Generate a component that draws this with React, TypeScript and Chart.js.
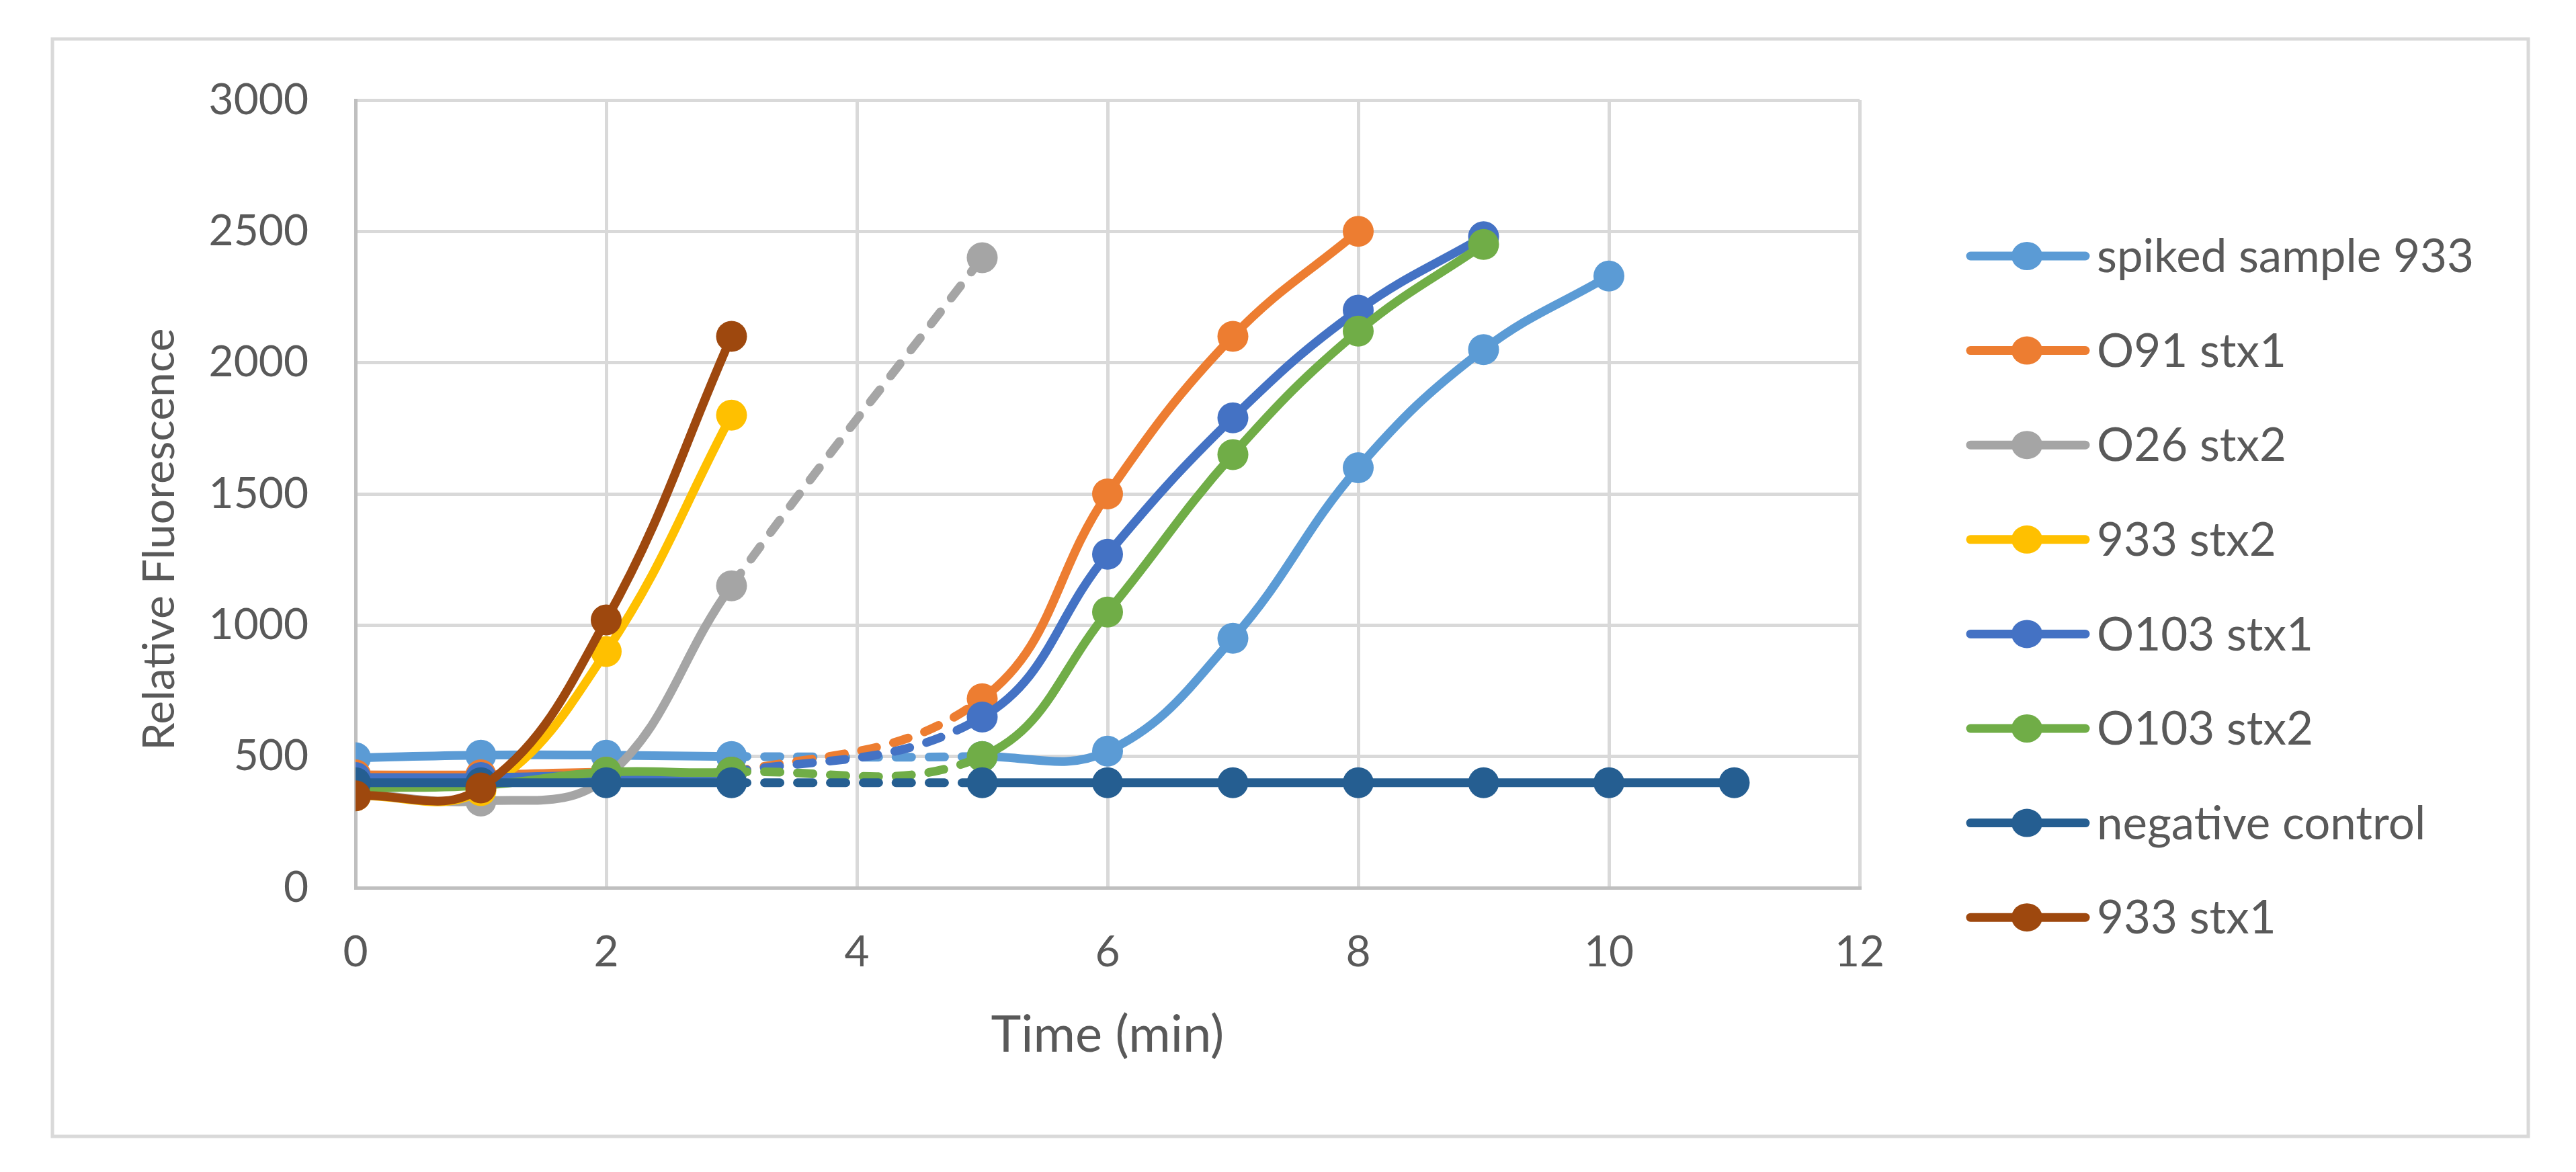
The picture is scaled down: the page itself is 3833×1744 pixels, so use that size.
import { useEffect, useRef } from "react";
import { Chart, registerables } from "chart.js";

Chart.register(...registerables);

// sampling times (min); there is no reading at 4 min
const times = [0, 1, 2, 3, 5, 6, 7, 8, 9, 10, 11];

const seriesNames = [
  "spiked sample 933",
  "O91 stx1",
  "O26 stx2",
  "933 stx2",
  "O103 stx1",
  "O103 stx2",
  "negative control",
  "933 stx1",
];

const seriesColors = [
  "#5B9BD5",
  "#ED7D31",
  "#A5A5A5",
  "#FFC000",
  "#4472C4",
  "#70AD47",
  "#255E91",
  "#9E480E",
];

const spikedSample933 = [495, 505, 505, 500, 500, 520, 950, 1600, 2050, 2330];
const o91Stx1 = [430, 430, 440, 440, 720, 1500, 2100, 2500];
const o26Stx2 = [360, 330, 420, 1150, 2400];
const s933Stx2 = [350, 370, 900, 1800];
const o103Stx1 = [420, 420, 430, 440, 650, 1270, 1790, 2200, 2480];
const o103Stx2 = [380, 390, 440, 440, 500, 1050, 1650, 2120, 2450];
const negativeControl = [400, 400, 400, 400, 400, 400, 400, 400, 400, 400, 400];
const s933Stx1 = [350, 380, 1020, 2100];

const seriesValues = [
  spikedSample933,
  o91Stx1,
  o26Stx2,
  s933Stx2,
  o103Stx1,
  o103Stx2,
  negativeControl,
  s933Stx1,
];

const FONT = "Lato";
const TEXT = "#595959";

// outer frame + legend with line-and-marker swatches
const framePlugin = {
  id: "frameAndLegend",
  beforeDraw(chart: Chart) {
    const ctx = chart.ctx;
    ctx.save();
    ctx.strokeStyle = "#D9D9D9";
    ctx.lineWidth = 5;
    ctx.strokeRect(70, 50, 3684, 1633);
    ctx.restore();
  },
  afterDraw(chart: Chart) {
    const ctx = chart.ctx;
    ctx.save();
    const x0 = 2924;
    const x1 = 3095;
    const mx = 3008;
    const tx = 3112;
    const top = 373;
    const step = 140.6;
    ctx.font = `69px ${FONT}`;
    ctx.textBaseline = "middle";
    ctx.textAlign = "left";
    seriesNames.forEach((name, i) => {
      const y = top + i * step;
      ctx.strokeStyle = seriesColors[i];
      ctx.lineWidth = 13;
      ctx.lineCap = "round";
      ctx.beginPath();
      ctx.moveTo(x0, y);
      ctx.lineTo(x1, y);
      ctx.stroke();
      ctx.fillStyle = seriesColors[i];
      ctx.beginPath();
      ctx.ellipse(mx, y, 23, 21, 0, 0, Math.PI * 2);
      ctx.fill();
      ctx.fillStyle = TEXT;
      ctx.fillText(name, tx, y + 2);
    });
    ctx.restore();
  },
};

export default function App() {
  const canvasRef = useRef<HTMLCanvasElement>(null);
  const chartRef = useRef<Chart | null>(null);

  useEffect(() => {
    if (!canvasRef.current) return;
    if (chartRef.current) chartRef.current.destroy();

    const n = seriesNames.length;
    const datasets = seriesNames.map((name, i) => ({
      label: name,
      data: seriesValues[i].map((v, j) => ({ x: times[j], y: v })),
      borderColor: seriesColors[i],
      backgroundColor: seriesColors[i],
      pointBackgroundColor: seriesColors[i],
      pointBorderWidth: 0,
      pointRadius: 23,
      pointHoverRadius: 23,
      borderWidth: 13,
      borderCapStyle: "round" as const,
      borderJoinStyle: "round" as const,
      tension: 0.4,
      showLine: true,
      // later series sit on top, as in the original
      order: n - 1 - i,
      segment: {
        borderDash: (c: any) =>
          c.p0.parsed.x === 3 && c.p1.parsed.x === 5 ? [23, 26] : undefined,
      },
    }));

    chartRef.current = new Chart(canvasRef.current, {
      type: "scatter",
      data: { datasets },
      plugins: [framePlugin],
      options: {
        animation: false,
        responsive: true,
        maintainAspectRatio: false,
        layout: { padding: { left: 100, top: 141, right: 1058, bottom: 115 } },
        plugins: {
          legend: { display: false },
          tooltip: { enabled: false },
        },
        scales: {
          x: {
            type: "linear",
            min: 0,
            max: 12,
            ticks: {
              stepSize: 2,
              padding: 58,
              color: TEXT,
              font: { family: FONT, size: 64 },
              callback: (v: any) => String(v),
            },
            grid: { color: "#D9D9D9", lineWidth: 5, drawTicks: false },
            border: { color: "#BFBFBF", width: 5 },
            title: {
              display: true,
              text: "Time (min)",
              color: TEXT,
              font: { family: FONT, size: 76 },
              padding: { top: 0, bottom: 35 },
            },
            afterFit(scale: any) {
              scale.height = 300;
            },
          },
          y: {
            type: "linear",
            min: 0,
            max: 3000,
            ticks: {
              stepSize: 500,
              padding: 70,
              color: TEXT,
              font: { family: FONT, size: 64 },
              callback: (v: any) => String(v),
            },
            grid: { color: "#D9D9D9", lineWidth: 5, drawTicks: false },
            border: { color: "#BFBFBF", width: 5 },
            title: {
              display: true,
              // trailing spaces nudge the centred title slightly downward
              text: "Relative Fluorescence        ",
              color: TEXT,
              font: { family: FONT, size: 66 },
              padding: { top: 90, bottom: 0 },
            },
            afterFit(scale: any) {
              scale.width = 421;
            },
          },
        },
      },
    });

    return () => {
      if (chartRef.current) {
        chartRef.current.destroy();
        chartRef.current = null;
      }
    };
  }, []);

  return (
    <div style={{ position: "relative", width: "3817px", height: "1728px", background: "#fff" }}>
      <canvas ref={canvasRef} />
    </div>
  );
}
